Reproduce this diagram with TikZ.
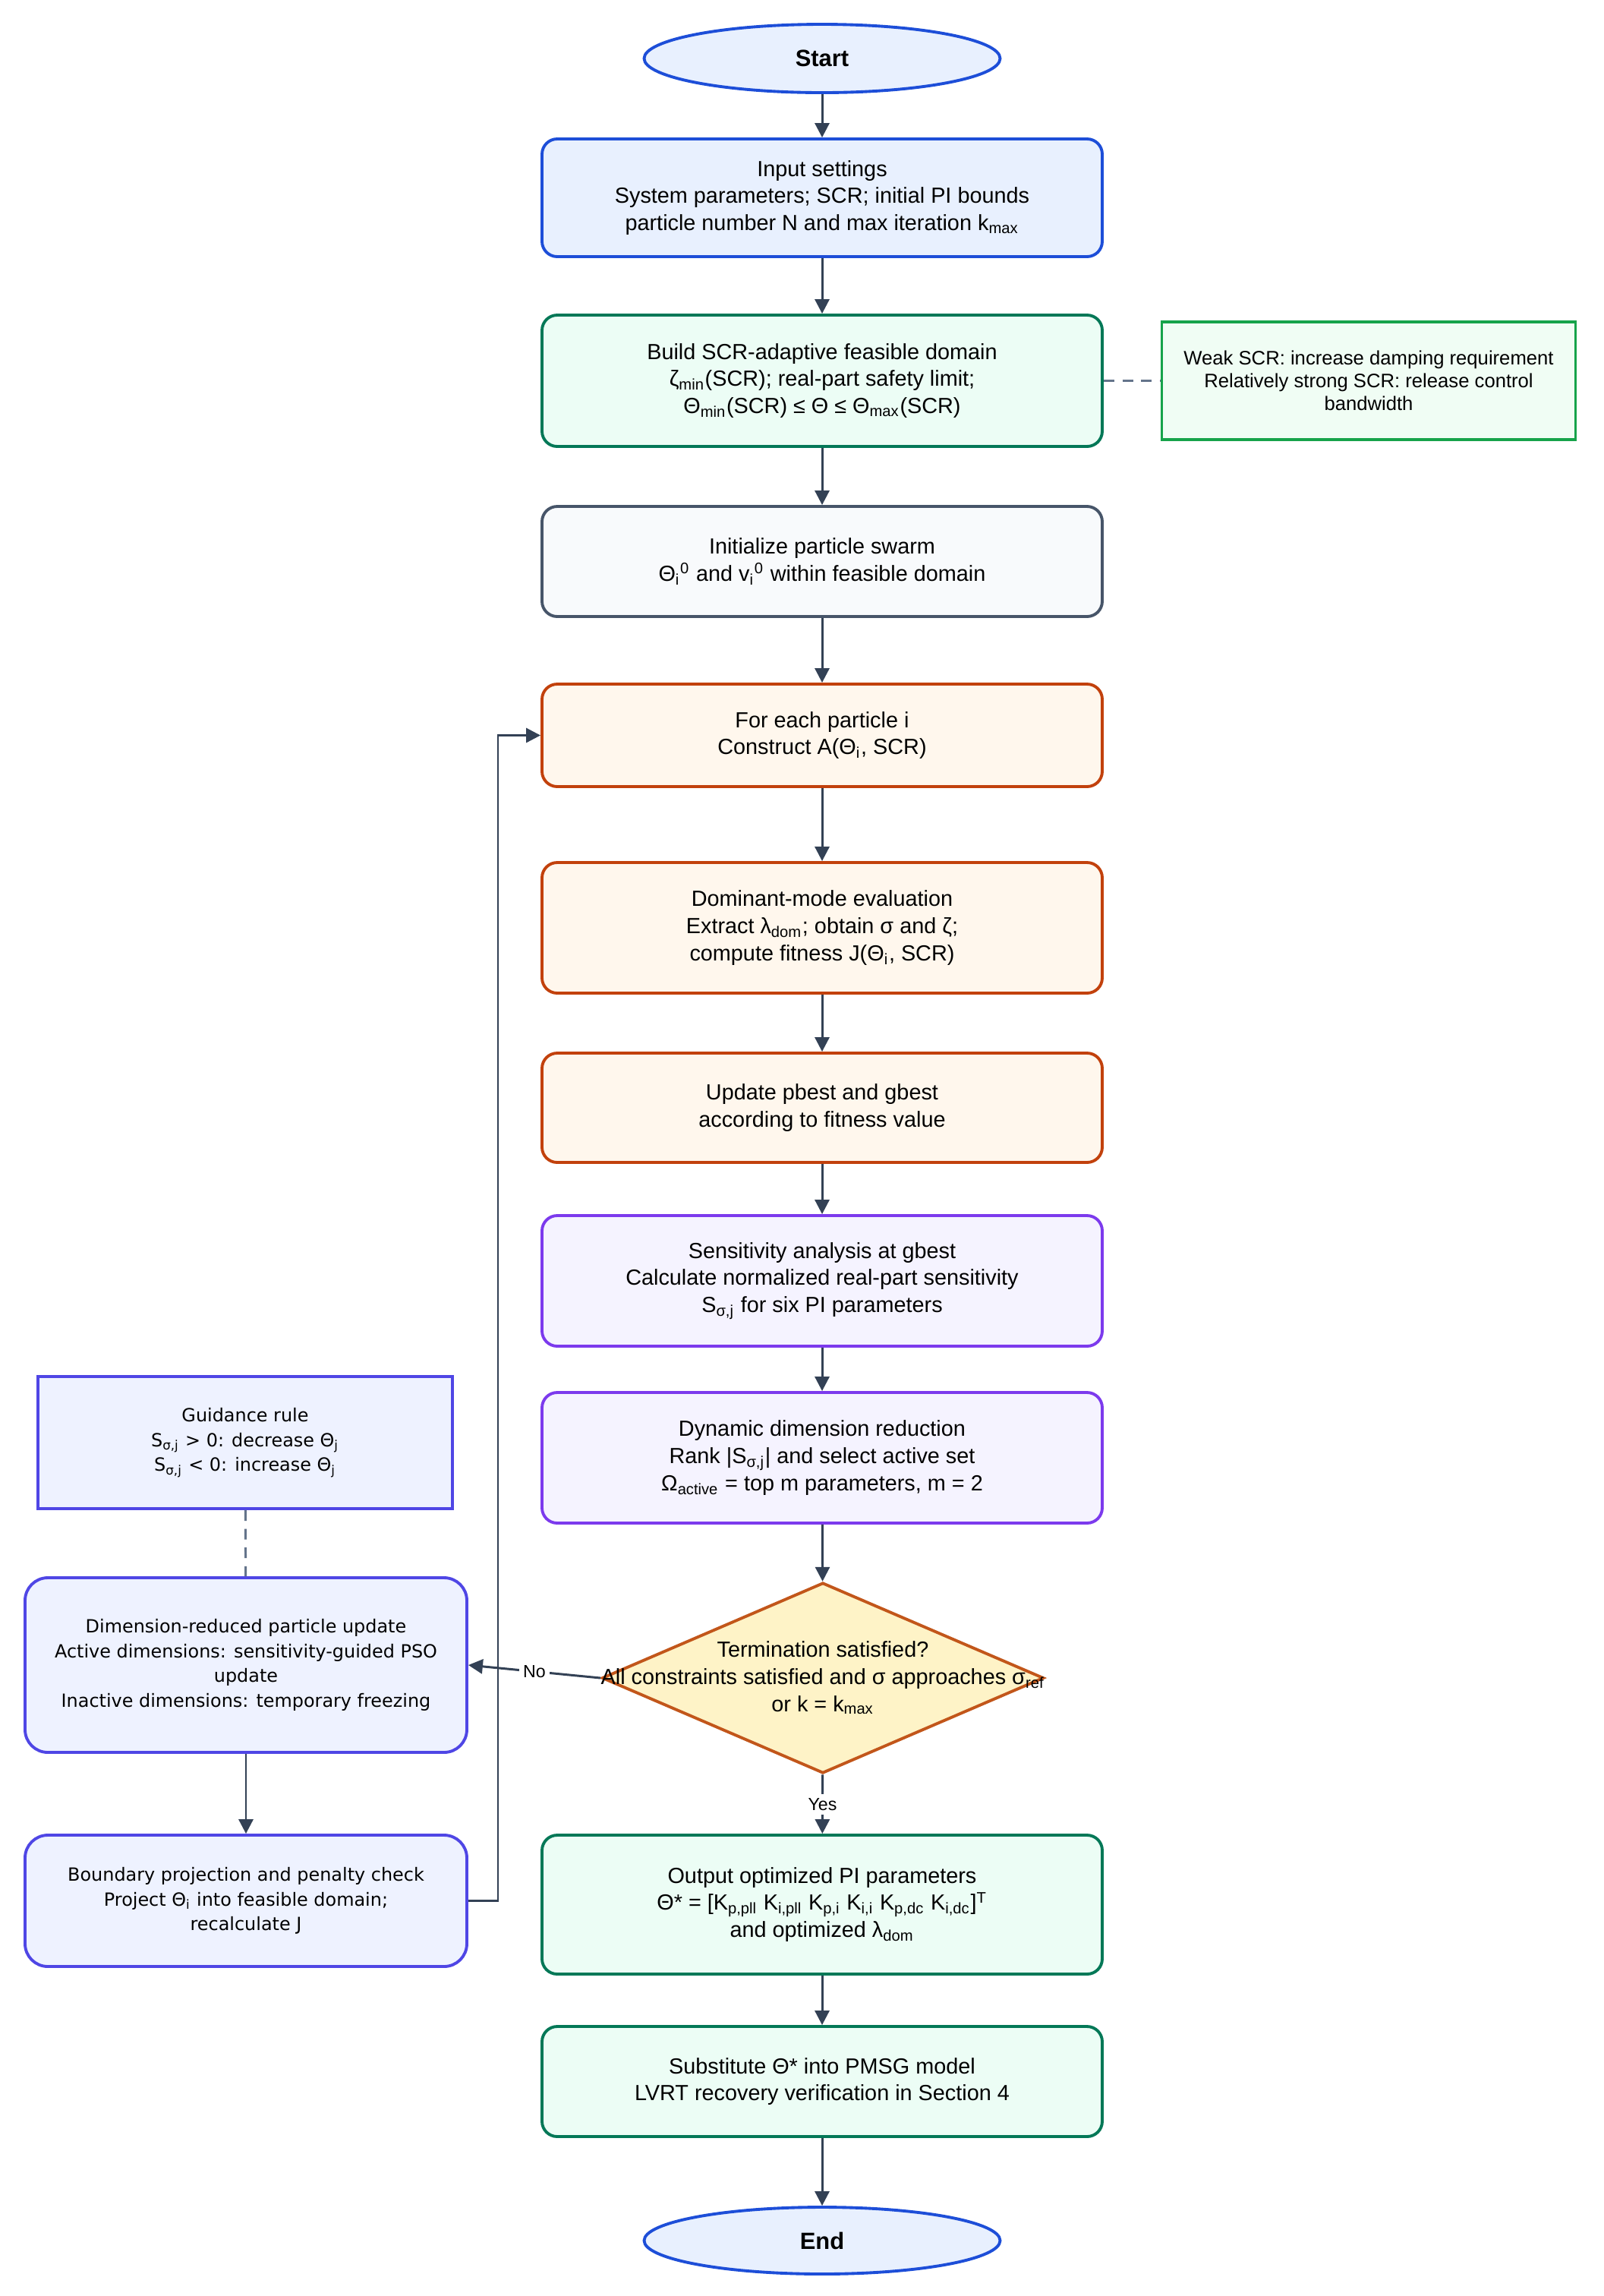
\documentclass[tikz,border=0pt]{standalone}
\usepackage{fontspec}
\setmainfont{Liberation Sans}
\newfontfamily\sidefont{DejaVu Sans}
\usetikzlibrary{shapes.geometric, arrows.meta}

\definecolor{bluebd}{HTML}{1D4ED8}
\definecolor{bluebg}{HTML}{E8F0FE}
\definecolor{greenbd}{HTML}{047857}
\definecolor{greenbg}{HTML}{ECFDF5}
\definecolor{notebd}{HTML}{16A34A}
\definecolor{notebg}{HTML}{F0FDF4}
\definecolor{graybd}{HTML}{475569}
\definecolor{graybg}{HTML}{F8FAFC}
\definecolor{orangebd}{HTML}{C2410C}
\definecolor{orangebg}{HTML}{FFF7ED}
\definecolor{violetbd}{HTML}{7C3AED}
\definecolor{violetbg}{HTML}{F5F3FF}
\definecolor{amberbd}{HTML}{C2561A}
\definecolor{amberbg}{HTML}{FEF3C7}
\definecolor{indigobd}{HTML}{4F46E5}
\definecolor{indigobg}{HTML}{EEF2FF}
\definecolor{edge}{HTML}{334155}
\definecolor{dashcol}{HTML}{64748B}

\begin{document}
\begin{tikzpicture}[
    every node/.style={font=\fontsize{8.2}{10.2}\selectfont},
    base/.style={align=center, line width=1.1pt, rounded corners=2mm, minimum width=7.38cm},
    startend/.style={ellipse, draw=bluebd, fill=bluebg, line width=1.1pt, minimum width=4.69cm,
        minimum height=0.9cm, font=\fontsize{8.8}{10}\selectfont\bfseries},
    inputbox/.style={base, rectangle, draw=bluebd, fill=bluebg},
    domainbox/.style={base, rectangle, draw=greenbd, fill=greenbg},
    initbox/.style={base, rectangle, draw=graybd, fill=graybg},
    evalbox/.style={base, rectangle, draw=orangebd, fill=orangebg},
    sensbox/.style={base, rectangle, draw=violetbd, fill=violetbg},
    notebox/.style={rectangle, align=center, draw=notebd, fill=notebg, line width=1.1pt,
        minimum width=5.45cm, minimum height=1.55cm, font=\fontsize{7.3}{8.6}\selectfont},
    guidebox/.style={rectangle, align=center, draw=indigobd, fill=indigobg, line width=1.1pt,
        minimum width=5.46cm, minimum height=1.74cm, font=\sidefont\fontsize{6.8}{9.3}\selectfont},
    sidebox/.style={rectangle, align=center, draw=indigobd, fill=indigobg, line width=1.1pt,
        rounded corners=3mm, minimum width=5.82cm, font=\sidefont\fontsize{6.8}{9.3}\selectfont},
    decision/.style={diamond, draw=amberbd, fill=amberbg, line width=1.1pt, inner sep=0pt,
        minimum width=5.82cm, minimum height=2.51cm},
    arrow/.style={-{Triangle[length=1.9mm, width=1.9mm]}, line width=0.85pt, draw=edge},
    dashedline/.style={dashed, dash pattern=on 4pt off 3pt, line width=0.85pt, draw=dashcol},
    edgelabel/.style={fill=white, inner sep=1.5pt, font=\fontsize{6.6}{8}\selectfont}
]
\useasboundingbox (0,0) rectangle (21.12,-30.24);

\node[startend] (ST) at (10.83, -0.77) {Start};
\node[inputbox, minimum height=1.55cm] (IN) at (10.83, -2.605)
    {Input settings\\System parameters; SCR; initial PI bounds\\particle number N and max iteration k\textsubscript{max}};
\node[domainbox, minimum height=1.73cm] (BD) at (10.83, -5.015)
    {Build SCR-adaptive feasible domain\\ζ\textsubscript{min}(SCR); real-part safety limit;\\Θ\textsubscript{min}(SCR) ≤ Θ ≤ Θ\textsubscript{max}(SCR)};
\node[notebox] (NT) at (18.03, -5.015)
    {Weak SCR: increase damping requirement\\Relatively strong SCR: release control\\bandwidth};
\node[initbox, minimum height=1.45cm] (IP) at (10.83, -7.395)
    {Initialize particle swarm\\Θ\textsubscript{i}\textsuperscript{0} and v\textsubscript{i}\textsuperscript{0} within feasible domain};
\node[evalbox, minimum height=1.35cm] (FE) at (10.83, -9.685)
    {For each particle i\\Construct A(Θ\textsubscript{i}, SCR)};
\node[evalbox, minimum height=1.72cm] (DM) at (10.83, -12.22)
    {Dominant-mode evaluation\\Extract λ\textsubscript{dom}; obtain σ and ζ;\\compute fitness J(Θ\textsubscript{i}, SCR)};
\node[evalbox, minimum height=1.44cm] (UP) at (10.83, -14.59)
    {Update pbest and gbest\\according to fitness value};
\node[sensbox, minimum height=1.72cm] (SA) at (10.83, -16.87)
    {Sensitivity analysis at gbest\\Calculate normalized real-part sensitivity\\S\textsubscript{σ,j} for six PI parameters};
\node[sensbox, minimum height=1.72cm] (DR) at (10.83, -19.20)
    {Dynamic dimension reduction\\Rank |S\textsubscript{σ,j}| and select active set\\Ω\textsubscript{active} = top m parameters, m = 2};
\node[decision] (TS) at (10.84, -22.1) {};
\node[align=center] (TSX) at (TS)
    {Termination satisfied?\\All constraints satisfied and σ approaches σ\textsubscript{ref}\\or k = k\textsubscript{max}};
\node[domainbox, minimum height=1.83cm] (OP) at (10.83, -25.085)
    {Output optimized PI parameters\\Θ* = [K\textsubscript{p,pll} K\textsubscript{i,pll} K\textsubscript{p,i} K\textsubscript{i,i} K\textsubscript{p,dc} K\textsubscript{i,dc}]\textsuperscript{T}\\and optimized λ\textsubscript{dom}};
\node[domainbox, minimum height=1.45cm] (SB) at (10.83, -27.415)
    {Substitute Θ* into PMSG model\\LVRT recovery verification in Section 4};
\node[startend, minimum height=0.88cm] (EN) at (10.83, -29.51) {End};

\node[guidebox] (GR) at (3.23, -19.0)
    {Guidance rule\\S\textsubscript{σ,j} > 0: decrease Θ\textsubscript{j}\\S\textsubscript{σ,j} < 0: increase Θ\textsubscript{j}};
\node[sidebox, minimum height=2.3cm] (PU) at (3.24, -21.93)
    {Dimension-reduced particle update\\Active dimensions: sensitivity-guided PSO\\update\\Inactive dimensions: temporary freezing};
\node[sidebox, minimum height=1.73cm] (BP) at (3.24, -25.035)
    {Boundary projection and penalty check\\Project Θ\textsubscript{i} into feasible domain;\\recalculate J};
\coordinate (LoopCorner) at (6.56, -25.035);

% main flow
\draw[arrow] (ST) -- (IN);
\draw[arrow] (IN) -- (BD);
\draw[dashedline] (BD) -- (NT);
\draw[arrow] (BD) -- (IP);
\draw[arrow] (IP) -- (FE);
\draw[arrow] (FE) -- (DM);
\draw[arrow] (DM) -- (UP);
\draw[arrow] (UP) -- (SA);
\draw[arrow] (SA) -- (DR);
\draw[arrow] (DR) -- (TS);
\draw[arrow] (TS) -- node[edgelabel] {Yes} (OP);
\draw[arrow] (OP) -- (SB);
\draw[arrow] (SB) -- (EN);

% update loop
\draw[arrow] (TS.west) -- node[edgelabel] {No} (PU.east);
\draw[dashedline] (GR) -- (PU);
\draw[arrow] (PU) -- (BP);
\draw[arrow] (BP.east) -- (LoopCorner) |- (FE.west);

\end{tikzpicture}
\end{document}
